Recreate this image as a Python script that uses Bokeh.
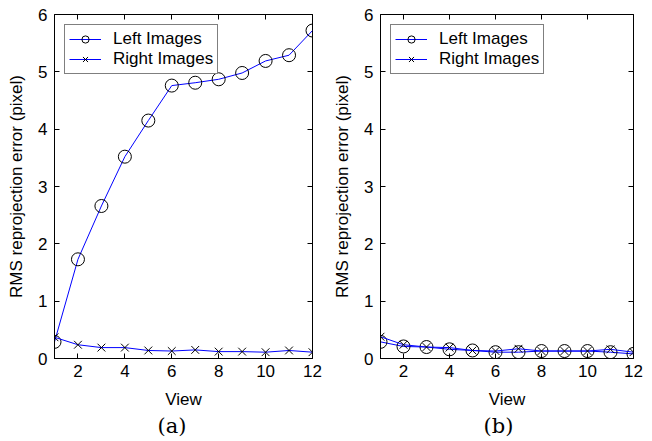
from bokeh.plotting import figure
from bokeh.layouts import row
from bokeh.models import Range1d, LinearAxis, SingleIntervalTicker, Title
from bokeh.embed import file_html
from bokeh.resources import INLINE

views = [1, 2, 3, 4, 5, 6, 7, 8, 9, 10, 11, 12]
a_left = [0.29, 1.73, 2.66, 3.52, 4.15, 4.76, 4.81, 4.87, 4.98, 5.19, 5.29, 5.72]
a_right = [0.37, 0.24, 0.19, 0.19, 0.14, 0.13, 0.15, 0.12, 0.12, 0.11, 0.14, 0.11]
b_left = [0.29, 0.21, 0.20, 0.16, 0.14, 0.11, 0.11, 0.13, 0.13, 0.13, 0.11, 0.08]
b_right = [0.38, 0.24, 0.20, 0.19, 0.14, 0.13, 0.17, 0.13, 0.13, 0.13, 0.16, 0.11]
captions = ["(a)", "(b)"]
x_label = "View"
y_label = "RMS reprojection error (pixel)"
legend_labels = ["Left Images", "Right Images"]

FONT = "Liberation Sans"
FS = "17px"


def style_axis(ax, show_labels=True):
    ax.major_tick_in = 5
    ax.major_tick_out = 0
    ax.minor_tick_in = 0
    ax.minor_tick_out = 0
    ax.major_tick_line_color = "black"
    ax.axis_line_color = "black"
    ax.major_label_text_font = FONT
    ax.major_label_text_font_size = FS
    ax.major_label_text_color = "black" if show_labels else None
    ax.axis_label_text_font = FONT
    ax.axis_label_text_font_size = FS
    ax.axis_label_text_font_style = "normal"
    ax.axis_label_text_color = "black"


def make_panel(left_vals, right_vals, caption, width, border_left, border_right):
    p = figure(width=width, height=441, output_backend="svg", toolbar_location=None,
               x_range=Range1d(1, 12), y_range=Range1d(0, 6),
               min_border_left=border_left, min_border_right=border_right,
               min_border_top=14, min_border_bottom=83)
    p.grid.visible = False
    p.outline_line_color = "black"
    p.outline_line_width = 1
    p.background_fill_color = "white"
    p.border_fill_color = "white"

    p.xaxis.ticker = SingleIntervalTicker(interval=2)
    p.yaxis.ticker = SingleIntervalTicker(interval=1)
    style_axis(p.xaxis[0])
    style_axis(p.yaxis[0])
    p.xaxis.axis_label = x_label
    p.yaxis.axis_label = y_label
    p.xaxis.major_label_standoff = 6
    p.yaxis.major_label_standoff = 7
    p.xaxis.axis_label_standoff = 10
    p.yaxis.axis_label_standoff = 9

    top = LinearAxis(ticker=SingleIntervalTicker(interval=2))
    style_axis(top, show_labels=False)
    top.axis_line_color = None
    top.major_label_standoff = 0
    p.add_layout(top, "above")
    right = LinearAxis(ticker=SingleIntervalTicker(interval=1))
    style_axis(right, show_labels=False)
    right.axis_line_color = None
    right.major_label_standoff = 0
    p.add_layout(right, "right")

    p.line(views, left_vals, line_color="#0000ff", line_width=1, legend_label=legend_labels[0])
    p.scatter(views, left_vals, marker="circle", size=13, fill_color=None,
              line_color="black", line_width=1, legend_label=legend_labels[0])
    p.line(views, right_vals, line_color="#0000ff", line_width=1, legend_label=legend_labels[1])
    p.scatter(views, right_vals, marker="x", size=11,
              line_color="black", line_width=1, legend_label=legend_labels[1])

    lg = p.legend[0]
    lg.location = "top_left"
    lg.margin = 10
    lg.padding = 4
    lg.spacing = 0
    lg.label_height = 18
    lg.glyph_height = 18
    lg.glyph_width = 32
    lg.label_standoff = 12
    lg.label_text_font = FONT
    lg.label_text_font_size = FS
    lg.label_text_color = "black"
    lg.border_line_color = "black"
    lg.border_line_width = 1
    lg.background_fill_color = "white"
    lg.background_fill_alpha = 1

    t = Title(text=caption, align="left", text_font="DejaVu Serif",
              text_font_size="21px", text_font_style="normal", text_color="black",
              standoff=1, offset=103)
    p.add_layout(t, "below")
    return p


p1 = make_panel(a_left, a_right, captions[0], 330, 54, 18)
p2 = make_panel(b_left, b_right, captions[1], 322, 45, 19)
layout = row(p1, p2)

open("out.html", "w").write(file_html(layout, INLINE))
